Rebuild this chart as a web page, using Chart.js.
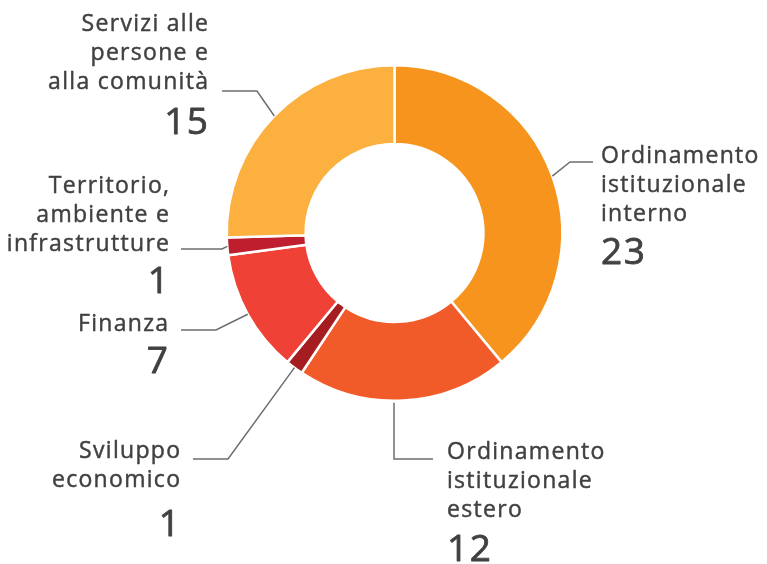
<!DOCTYPE html>
<html>
<head>
<meta charset="utf-8">
<script src="https://cdn.jsdelivr.net/npm/chart.js@4/dist/chart.umd.min.js"></script>
<style>
html,body{margin:0;padding:0;background:#fff;}
canvas{display:block;}
</style>
</head>
<body>
<canvas id="c" width="767" height="564"></canvas>
<script>
// ---- data ----
const categories = [
  'Ordinamento istituzionale interno',
  'Ordinamento istituzionale estero',
  'Sviluppo economico',
  'Finanza',
  'Territorio, ambiente e infrastrutture',
  'Servizi alle persone e alla comunità'
];
const values = [23, 12, 1, 7, 1, 15];
const labelLines = [
  ['Ordinamento', 'istituzionale', 'interno'],
  ['Ordinamento', 'istituzionale', 'estero'],
  ['Sviluppo', 'economico'],
  ['Finanza'],
  ['Territorio,', 'ambiente e', 'infrastrutture'],
  ['Servizi alle', 'persone e', 'alla comunità']
];

// ---- style ----
const colors = ['#F7941D', '#F15A29', '#A51D21', '#EF4136', '#BE1E2D', '#FBB040'];
const textColor = '#414042';
const leaderColor = '#6D6E71';
const textFont = '400 23px "Open Sans", sans-serif';
const numFont = '400 37px "Open Sans", sans-serif';
const textSpacing = 1.3;
const numSpacing = 1.5;
const textStroke = 0.45;
const numStroke = 0.8;
const lineH = 29;

// label placement (annotation layout)
const labelLayout = [
  {align: 'left',  textX: 601, base: 163, numBase: 264, leaderY: 162, endX: 593, elbowX: 570},
  {align: 'left',  textX: 447, base: 459, numBase: 561, leaderY: 459, endX: 433, elbowX: 394, vertical: true},
  {align: 'right', textX: 180, base: 458, numBase: 536, leaderY: 459, endX: 193, elbowX: 228},
  {align: 'right', textX: 168, base: 331, numBase: 373, leaderY: 330, endX: 181, elbowX: 216},
  {align: 'right', textX: 169, base: 193, numBase: 293, leaderY: 249, endX: 181, elbowX: 222},
  {align: 'right', textX: 208, base: 31,  numBase: 134, leaderY: 91,  endX: 222, elbowX: 257}
];

function drawText(ctx, t, x, y, align, spacing, stroke) {
  ctx.letterSpacing = spacing + 'px';
  const dx = align === 'right' ? spacing : 0;
  ctx.fillText(t, x + dx, y);
  ctx.lineWidth = stroke;
  ctx.strokeText(t, x + dx, y);
}

const labelPlugin = {
  id: 'leaderLabels',
  afterDatasetsDraw(chart) {
    const ctx = chart.ctx;
    const meta = chart.getDatasetMeta(0);
    meta.data.forEach((arc, i) => {
      const L = labelLayout[i];
      const p = arc.getProps(['x', 'y', 'startAngle', 'endAngle', 'outerRadius'], true);
      const mid = (p.startAngle + p.endAngle) / 2;
      let sx = p.x + Math.cos(mid) * p.outerRadius;
      let sy = p.y + Math.sin(mid) * p.outerRadius;
      ctx.save();
      ctx.strokeStyle = leaderColor;
      ctx.lineWidth = 1.5;
      ctx.beginPath();
      if (L.vertical) {
        const dx = L.elbowX - p.x;
        sx = L.elbowX;
        sy = p.y + Math.sqrt(p.outerRadius * p.outerRadius - dx * dx) + 2;
      }
      ctx.moveTo(sx, sy);
      ctx.lineTo(L.elbowX, L.leaderY);
      ctx.lineTo(L.endX, L.leaderY);
      ctx.stroke();
      ctx.fillStyle = textColor;
      ctx.strokeStyle = textColor;
      ctx.lineJoin = 'round';
      ctx.textAlign = L.align;
      ctx.textBaseline = 'alphabetic';
      ctx.font = textFont;
      labelLines[i].forEach((t, k) => drawText(ctx, t, L.textX, L.base + k * lineH, L.align, textSpacing, textStroke));
      ctx.font = numFont;
      drawText(ctx, String(values[i]), L.textX, L.numBase, L.align, numSpacing, numStroke);
      ctx.restore();
    });
  }
};

new Chart(document.getElementById('c'), {
  type: 'doughnut',
  data: {
    labels: categories,
    datasets: [{
      data: values,
      backgroundColor: colors,
      borderColor: '#ffffff',
      borderWidth: 2.5
    }]
  },
  options: {
    responsive: false,
    animation: false,
    cutout: '53%',
    layout: {padding: {left: 225, right: 203, top: 64, bottom: 162}},
    plugins: {legend: {display: false}, tooltip: {enabled: false}}
  },
  plugins: [labelPlugin]
});
</script>
</body>
</html>
